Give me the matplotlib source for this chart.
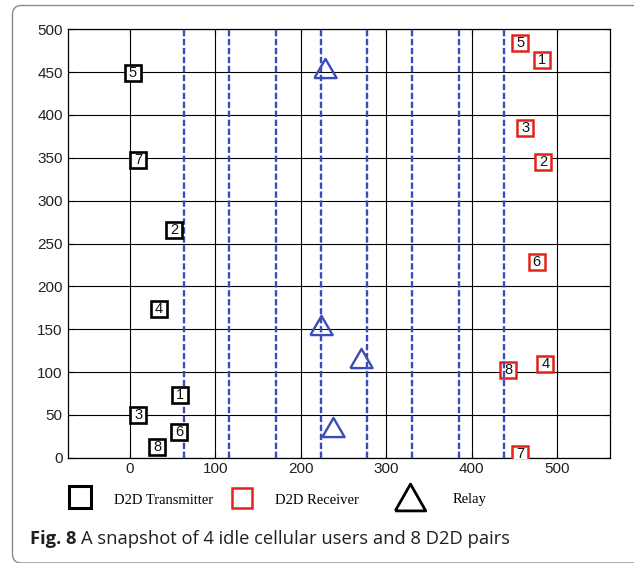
import matplotlib
matplotlib.use("Agg")
import matplotlib.pyplot as plt
from matplotlib.patches import FancyBboxPatch

# ---------------- data ----------------
tx_ids = [1, 2, 3, 4, 5, 6, 7, 8]
tx_x = [58.9, 51.8, 9.7, 33.9, 3.2, 57.3, 9.7, 31.9]
tx_y = [72.8, 265.8, 49.5, 173.6, 448.6, 29.6, 347.5, 12.8]

rx_ids = [1, 2, 3, 4, 5, 6, 7, 8]
rx_x = [482.5, 483.6, 463.0, 486.4, 457.2, 476.2, 456.7, 442.7]
rx_y = [464.5, 344.8, 384.8, 109.0, 484.4, 228.4, 4.3, 102.0]

relay_x = [228.5, 223.5, 270.3, 237.9]
relay_y = [455.0, 154.6, 116.9, 35.8]

boundary_x = [62.8, 116.2, 170.8, 223.8, 277.7, 330.3, 385.3, 438.4]

x_ticks = [0, 100, 200, 300, 400, 500]
y_ticks = [0, 50, 100, 150, 200, 250, 300, 350, 400, 450, 500]

legend_labels = ["D2D Transmitter", "D2D Receiver", "Relay"]
caption_bold = "Fig. 8"
caption_text = "A snapshot of 4 idle cellular users and 8 D2D pairs"

# ---------------- style ----------------
W, H = 634, 563
BLUE = "#3b4cb8"
RED = "#e2231a"
SANS = ["Liberation Sans", "DejaVu Sans"]
SERIF = ["Liberation Serif", "DejaVu Serif"]

fig = plt.figure(figsize=(W / 100, H / 100), dpi=100)

L, R, T, B = 67.7, 610.0, 29.3, 457.7
ax = fig.add_axes([L / W, 1 - B / H, (R - L) / W, (B - T) / H])
ax.set_xlim(-73, 562)
ax.set_ylim(0, 500)
ax.set_xticks(x_ticks)
ax.set_yticks(y_ticks)
ax.set_axisbelow(True)
ax.grid(True, color="black", lw=0.8)
for s in ax.spines.values():
    s.set_color("black")
    s.set_linewidth(0.9)
ax.tick_params(direction="in", length=4, width=0.8, top=True, right=True,
               labelsize=11, labelcolor="#222222")
ax.tick_params(axis="x", pad=3)
ax.tick_params(axis="y", pad=3.6)
for lab in ax.get_xticklabels() + ax.get_yticklabels():
    lab.set_family(SANS)

# receivers (red boxes)
ax.plot(rx_x, rx_y, ls="none", marker="s", ms=11.5, mfc="white", mec=RED,
        mew=1.8, zorder=3)
for i, x, y in zip(rx_ids, rx_x, rx_y):
    ax.text(x, y, str(i), ha="center", va="center", fontsize=10.5,
            family=SANS, color="#111111", zorder=3.1)

# boundaries (blue dashed)
for bx in boundary_x:
    ax.axvline(bx, color=BLUE, lw=1.7, dashes=(2.7, 1.1), zorder=4)

# transmitters (black boxes)
ax.plot(tx_x, tx_y, ls="none", marker="s", ms=11, mfc="white", mec="black",
        mew=1.9, zorder=5)
for i, x, y in zip(tx_ids, tx_x, tx_y):
    ax.text(x, y, str(i), ha="center", va="center", fontsize=10.5,
            family=SANS, color="#111111", zorder=5.1)

# relays (blue triangles)
tri = [(-1.16, -1), (1.16, -1), (0, 1), (-1.16, -1)]
ax.plot(relay_x, relay_y, ls="none", marker=tri, ms=16, mfc="none",
        mec=BLUE, mew=1.7, zorder=6)

# ---------------- overlay (legend row, caption, frame) ----------------
ov = fig.add_axes([0, 0, 1, 1], facecolor="none")
ov.set_xlim(0, W)
ov.set_ylim(H, 0)
ov.axis("off")

frame = FancyBboxPatch((12.5, 5.5), 640, 557.5, boxstyle="round,pad=0,rounding_size=9",
                       fc="none", ec="#8a8a8a", lw=1.0)
ov.add_patch(frame)

ov.plot([79.5], [497.2], marker="s", ms=16, mfc="white", mec="black", mew=2.2, ls="none")
ov.plot([241.7], [498.3], marker="s", ms=15, mfc="white", mec=RED, mew=1.8, ls="none")
tri_leg = [(-1.14, -1), (1.14, -1), (0, 1), (-1.14, -1)]
ov.plot([410.3], [496.7], marker=tri_leg, ms=22, mfc="none", mec="black", mew=2.0, ls="none")
for x, lab in zip([114, 275, 452.7], legend_labels):
    ov.text(x, 503.5, lab, ha="left", va="baseline", fontsize=10.5,
            family=SERIF, color="black")

CAP = ["Open Sans", "DejaVu Sans"]
fs = 12
t1 = ov.text(30, 544.5, caption_bold, ha="left", va="baseline", fontsize=fs,
             family=CAP, weight="bold", color="#231f20")
t2 = ov.text(0, 544.5, caption_text, ha="left", va="baseline", fontsize=fs,
             family=CAP, color="#231f20")
r = fig.canvas.get_renderer()
w1 = t1.get_window_extent(r).width
w2 = t2.get_window_extent(r).width
gap = fs * 100 / 72 * 0.26
scale = (508 - 30) / (w1 + gap + w2)
fs2 = fs * scale
t1.set_fontsize(fs2)
t2.set_fontsize(fs2)
w1 = t1.get_window_extent(r).width
t2.set_x(30 + w1 + gap * scale)

fig.savefig("out.png", dpi=100)
